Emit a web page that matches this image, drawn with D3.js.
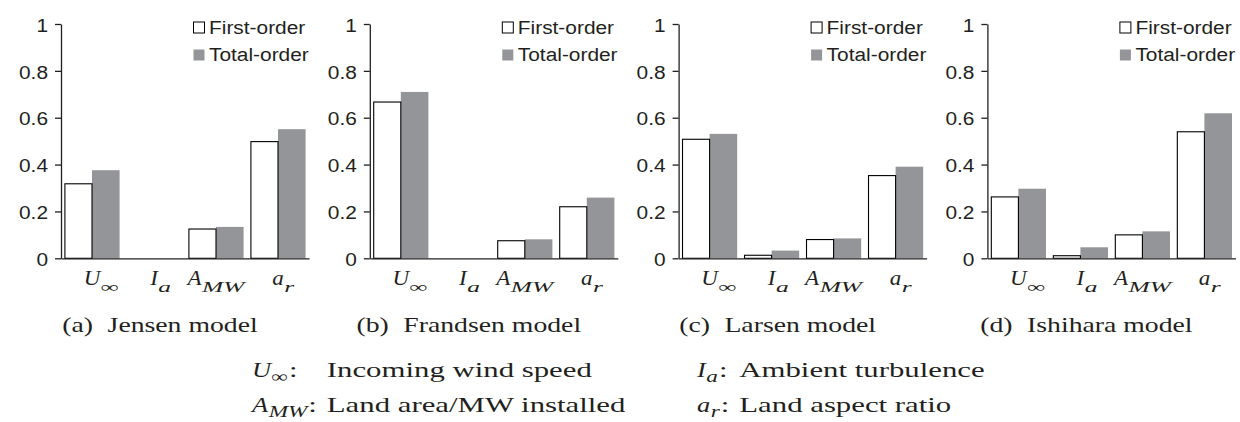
<!DOCTYPE html>
<html>
<head>
<meta charset="utf-8">
<script src="https://cdn.jsdelivr.net/npm/d3@7"></script>
<style>
  body { margin: 0; background: #fff; }
</style>
</head>
<body>
<svg id="chart" width="1240" height="422"></svg>
<script>
// ---- data -------------------------------------------------------------
const factorKeys = ["U", "Ia", "AMW", "ar"];
const factorMain = ["U", "I", "A", "a"];
const factorSub = ["∞", "a", "MW", "r"];

const seriesNames = ["First-order", "Total-order"];

const modelNames = ["Jensen model", "Frandsen model", "Larsen model", "Ishihara model"];
const panelLetters = ["(a)", "(b)", "(c)", "(d)"];

const jensenFirst   = [0.318, 0.000, 0.125, 0.498];
const jensenTotal   = [0.376, 0.000, 0.134, 0.551];
const frandsenFirst = [0.667, 0.000, 0.075, 0.220];
const frandsenTotal = [0.710, 0.000, 0.081, 0.259];
const larsenFirst   = [0.508, 0.013, 0.080, 0.353];
const larsenTotal   = [0.531, 0.033, 0.085, 0.391];
const ishiharaFirst = [0.262, 0.011, 0.100, 0.540];
const ishiharaTotal = [0.297, 0.047, 0.115, 0.619];

const yTicks = [0, 0.2, 0.4, 0.6, 0.8, 1];
const yTickLabels = ["0", "0.2", "0.4", "0.6", "0.8", "1"];

// glossary, laid out in two columns: U, I (top row) then A, a (bottom row)
const glossaryMain = ["U", "I", "A", "a"];
const glossarySub = ["∞", "a", "MW", "r"];
const glossaryText = ["Incoming wind speed", "Ambient turbulence", "Land area/MW installed", "Land aspect ratio"];

// ---- layout & style ---------------------------------------------------
const firstSets = [jensenFirst, frandsenFirst, larsenFirst, ishiharaFirst];
const totalSets = [jensenTotal, frandsenTotal, larsenTotal, ishiharaTotal];

const sans = "'Liberation Sans', Arial, Helvetica, sans-serif";
const serif = "'Liberation Serif', 'Times New Roman', serif";
const ink = "#231f20";
const grey = "#939598";

const axisX0 = 61, panelStep = 308.8, plotW = 248;
const yTop = 24, yBase = 258.3;
const sansK = 1.16;
const descK = 1.4;

const svg = d3.select("#chart");
const y = d3.scaleLinear().domain([0, 1]).range([yBase, yTop]);

// italic symbol with a subscript; returns the drawn group and widths
function mathLabel(parent, main, sub, o) {
  const g = parent.append("g");
  const mt = g.append("text")
    .attr("font-family", serif).attr("font-style", "italic")
    .attr("font-size", o.size).attr("fill", ink)
    .attr("transform", `scale(${o.k},1)`)
    .text(main);
  const mainW = mt.node().getComputedTextLength() * o.k;
  const st = g.append("text")
    .attr("font-family", serif)
    .attr("font-style", sub === "∞" ? "normal" : "italic")
    .attr("font-size", o.subSize).attr("fill", ink)
    .attr("transform", `translate(${mainW + o.gap},${o.subDy}) scale(${o.subK},1)`)
    .text(sub);
  const subW = st.node().getComputedTextLength() * o.subK;
  return { g, mainW, width: mainW + o.gap + subW };
}

modelNames.forEach((name, i) => {
  const ox = axisX0 + i * panelStep;
  const g = svg.append("g").attr("transform", `translate(${ox},0)`);

  const x = d3.scaleBand().domain(factorKeys).range([0, plotW])
    .paddingInner(0.11).paddingOuter(0.055);
  const xs = d3.scaleBand().domain(seriesNames).range([0, x.bandwidth()]);

  const rows = factorKeys.map((k, j) => ({
    key: k, first: firstSets[i][j], total: totalSets[i][j]
  }));

  // bars
  const grp = g.selectAll("g.factor").data(rows).join("g")
    .attr("class", "factor")
    .attr("transform", d => `translate(${x(d.key)},0)`);

  grp.filter(d => d.total > 0).append("rect")
    .attr("x", xs("Total-order"))
    .attr("y", d => y(d.total))
    .attr("width", xs.bandwidth())
    .attr("height", d => yBase - y(d.total))
    .attr("fill", grey);

  grp.filter(d => d.first > 0).append("rect")
    .attr("x", xs("First-order") + 0.5)
    .attr("y", d => y(d.first))
    .attr("width", xs.bandwidth() - 0.5)
    .attr("height", d => yBase - y(d.first))
    .attr("fill", "#fff")
    .attr("stroke", "#000")
    .attr("stroke-width", 1.1);

  // y axis
  const yAxis = d3.axisLeft(y).tickValues(yTicks)
    .tickFormat(d => yTickLabels[yTicks.indexOf(d)])
    .tickSize(6).tickSizeOuter(0).tickPadding(7);
  const ya = g.append("g").call(yAxis);
  ya.select(".domain").attr("stroke", ink).attr("stroke-width", 1.3);
  ya.selectAll(".tick line").attr("stroke", ink).attr("stroke-width", 1.3);
  ya.selectAll(".tick text")
    .attr("font-family", sans).attr("font-size", 18).attr("fill", ink)
    .attr("x", -13 / sansK).attr("dy", "0.4em")
    .attr("transform", `scale(${sansK},1)`);

  // x axis line
  const xAxis = d3.axisBottom(x).tickValues([]).tickSizeOuter(0);
  const xa = g.append("g").attr("transform", `translate(0,${yBase})`).call(xAxis);
  xa.select(".domain").attr("stroke", ink).attr("stroke-width", 1.3);

  // category labels
  factorKeys.forEach((k, j) => {
    const cx = x(k) + x.bandwidth() / 2;
    const lab = mathLabel(g, factorMain[j], factorSub[j],
      { size: 20, k: 1.15, subSize: 15, subK: 1.7, subDy: 6.5, gap: 0.5 });
    const left = factorSub[j].length > 1 ? cx - lab.width / 2 : cx - lab.mainW / 2;
    lab.g.attr("transform", `translate(${left},285)`);
  });

  // legend
  seriesNames.forEach((s, j) => {
    const ly = 22 + j * 27.5;
    g.append("rect")
      .attr("x", 132.5).attr("y", ly)
      .attr("width", 11).attr("height", 11)
      .attr("fill", j === 0 ? "#fff" : grey)
      .attr("stroke", j === 0 ? "#000" : "none")
      .attr("stroke-width", 1);
    g.append("text")
      .attr("transform", `translate(148,${ly + 11.5}) scale(${sansK},1)`)
      .attr("font-family", sans).attr("font-size", 18).attr("fill", ink)
      .text(s);
  });

  // sub-caption
  const cap = svg.append("text")
    .attr("transform", `translate(${ox + 99},332) scale(1.26,1)`)
    .attr("text-anchor", "middle")
    .attr("font-family", serif).attr("font-size", 22).attr("fill", ink);
  cap.append("tspan").text(panelLetters[i]);
  cap.append("tspan").attr("dx", 6).text(" " + name);
});

// glossary of symbols: two columns, descriptions aligned within a column
const glossX = [252, 697];
const glossY = [377, 412];
const mathOpts = { size: 22, k: 1.2, subSize: 16, subK: 1.45, subDy: 4.5, gap: 0.5 };
[0, 1].forEach(col => {
  const items = [col, col + 2];
  const rowsG = items.map((j, r) => {
    const row = svg.append("g").attr("transform", `translate(${glossX[col]},${glossY[r]})`);
    const lab = mathLabel(row, glossaryMain[j], glossarySub[j], mathOpts);
    const colon = row.append("text")
      .attr("transform", `translate(${lab.width + 1},0) scale(${descK},1)`)
      .attr("font-family", serif).attr("font-size", 22).attr("fill", ink)
      .text(":");
    const end = lab.width + 1 + colon.node().getComputedTextLength() * descK;
    return { row, j, end };
  });
  const descX = d3.max(rowsG, d => d.end) + 10;
  rowsG.forEach(d => {
    d.row.append("text")
      .attr("transform", `translate(${descX},0) scale(${descK},1)`)
      .attr("font-family", serif).attr("font-size", 22).attr("fill", ink)
      .text(glossaryText[d.j]);
  });
});
</script>
</body>
</html>
